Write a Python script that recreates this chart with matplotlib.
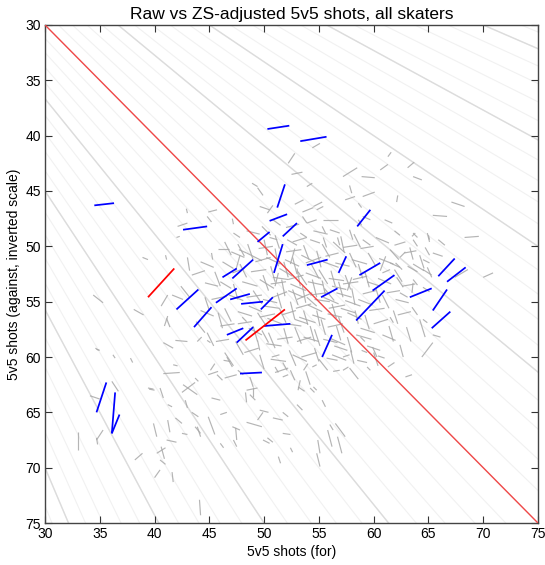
import numpy as np
import matplotlib
matplotlib.use("Agg")
import matplotlib.pyplot as plt
from matplotlib.collections import LineCollection

plt.rcParams['font.family'] = ['Liberation Sans', 'DejaVu Sans']

title = "Raw vs ZS-adjusted 5v5 shots, all skaters"
xlabel = "5v5 shots (for)"
ylabel = "5v5 shots (against, inverted scale)"
ticks = [30, 35, 40, 45, 50, 55, 60, 65, 70, 75]

# Shot-share reference lines (fraction of shots "for")
share_minor = [p / 100 for p in range(26, 75)]
share_major = [0.30, 0.35, 0.40, 0.45, 0.55, 0.60, 0.65, 0.70]

# Each row: (raw for, raw against, adjusted for, adjusted against)
blue_players = [
    (50.3, 39.4, 52.3, 39.1), (53.3, 40.5, 55.7, 40.1), (34.5, 46.3, 36.3, 46.1),
    (42.6, 48.5, 44.8, 48.2), (51.2, 46.5, 51.9, 44.4), (50.5, 47.7, 52.1, 47.1),
    (51.7, 49.1, 53.0, 47.9), (49.4, 49.6, 50.5, 48.7), (58.5, 48.2, 59.7, 46.7),
    (46.2, 52.8, 47.5, 52.0), (47.1, 52.9, 49.0, 51.2), (50.9, 52.4, 51.7, 49.8),
    (53.9, 51.7, 55.8, 51.2), (56.8, 52.4, 57.5, 50.9), (58.7, 52.6, 60.6, 51.5),
    (42.0, 55.7, 44.0, 53.9), (43.6, 57.3, 45.2, 55.5), (45.6, 55.1, 47.5, 53.8),
    (46.9, 54.8, 48.7, 54.3), (47.9, 55.2, 49.9, 55.0), (49.7, 55.7, 50.8, 54.6),
    (46.6, 58.0, 48.1, 57.4), (47.5, 58.7, 49.0, 57.3), (50.0, 57.2, 52.4, 57.0),
    (47.8, 61.5, 49.8, 61.4), (55.2, 54.6, 56.7, 53.8), (59.9, 54.0, 61.9, 52.6),
    (58.4, 56.7, 61.0, 54.0), (55.3, 60.0, 56.2, 58.0), (63.3, 54.6, 65.3, 53.8),
    (65.9, 52.7, 67.4, 51.1), (66.7, 53.2, 68.4, 51.9), (65.4, 55.8, 66.7, 53.9),
    (65.3, 57.4, 67.0, 55.9), (34.7, 65.0, 35.6, 62.3), (36.4, 63.2, 36.1, 66.9),
    (36.1, 66.9, 36.8, 65.2),
]

red_players = [
    (39.4, 54.6, 41.8, 52.0),
    (48.3, 58.5, 51.9, 55.7),
]

gray_upper = [
    (61.3, 41.9, 61.6, 41.5), (63.1, 42.9, 63.7, 42.4), (63.6, 43.7, 64.4, 44.0),
    (57.2, 43.7, 58.5, 42.9), (58.9, 43.7, 60.1, 43.8), (57.8, 44.5, 58.0, 45.2),
    (57.4, 45.8, 58.3, 45.5), (59.0, 45.5, 60.1, 45.1), (67.1, 46.0, 68.3, 46.4),
    (65.4, 47.2, 66.7, 47.3), (68.3, 49.2, 69.6, 49.1), (52.5, 43.5, 53.5, 43.3),
    (52.2, 42.5, 52.8, 41.6), (54.4, 41.1, 55.1, 40.7), (53.9, 44.6, 54.4, 44.3),
    (54.5, 46.4, 55.3, 46.0), (53.5, 47.3, 53.9, 47.9), (62.2, 45.4, 62.1, 46.0),
    (58.6, 46.1, 58.9, 46.5), (63.6, 48.8, 64.0, 49.2), (48.9, 44.3, 49.4, 44.6),
    (49.4, 44.7, 49.9, 45.4), (42.9, 46.6, 43.0, 47.0), (44.9, 46.9, 45.7, 46.7),
    (44.8, 47.3, 45.2, 47.8), (42.1, 48.2, 43.0, 47.9), (47.1, 47.5, 47.2, 48.0),
    (42.0, 49.2, 42.3, 49.1), (38.9, 51.0, 39.4, 51.2), (41.0, 50.8, 41.1, 51.2),
    (45.2, 50.6, 45.3, 51.2), (50.3, 47.0, 50.8, 46.3), (60.6, 43.1, 61.3, 42.6),
    (61.0, 47.6, 61.7, 47.9), (61.9, 49.9, 62.9, 49.6), (65.9, 49.4, 66.5, 49.9),
    (55.4, 47.6, 56.7, 47.6), (52.8, 46.2, 53.6, 45.8), (53.5, 46.9, 54.5, 46.5),
    (54.8, 46.7, 55.4, 46.4), (53.9, 47.9, 54.8, 47.6), (55.3, 48.2, 55.6, 48.8),
    (56.0, 48.5, 56.9, 48.8), (58.6, 47.6, 58.9, 48.1), (59.0, 47.3, 59.7, 47.6),
    (52.1, 49.4, 53.0, 49.9), (53.3, 48.8, 53.9, 49.2), (54.2, 49.4, 55.1, 49.7),
    (55.4, 49.2, 55.7, 50.1), (56.7, 49.2, 56.9, 49.9), (57.8, 48.5, 58.1, 49.4),
    (57.2, 50.1, 58.5, 49.9), (59.0, 49.4, 59.7, 49.9), (50.5, 49.2, 51.2, 49.4),
    (61.9, 48.6, 62.4, 49.0), (64.9, 48.8, 65.1, 49.6), (47.7, 50.3, 48.4, 50.6),
    (49.6, 46.4, 50.5, 46.7), (50.8, 47.6, 51.5, 48.1), (47.2, 48.8, 47.8, 49.2),
    (63.5, 49.1, 63.8, 48.8), (63.6, 49.4, 64.0, 50.0), (65.0, 49.0, 65.1, 49.4),
]

gray_left = [
    (34.4, 54.4, 35.3, 55.1), (38.1, 55.7, 39.0, 56.2), (41.1, 56.5, 41.4, 57.3),
    (41.9, 58.5, 43.0, 58.6), (40.8, 58.7, 41.7, 59.2), (34.7, 59.3, 35.0, 59.4),
    (36.2, 59.8, 36.4, 60.1), (37.8, 60.1, 38.0, 60.5), (40.8, 61.5, 42.3, 61.4),
    (41.7, 60.7, 42.1, 60.8), (39.4, 62.8, 39.9, 62.9), (40.5, 62.8, 40.8, 63.7),
    (41.2, 64.3, 41.6, 64.5), (42.5, 63.2, 43.7, 62.3), (42.6, 62.5, 43.9, 63.4),
    (42.8, 63.9, 43.0, 64.6), (43.4, 65.0, 44.0, 65.4), (39.9, 66.0, 40.2, 67.2),
    (41.2, 65.7, 41.4, 66.8), (41.1, 67.5, 42.0, 67.7), (42.5, 66.9, 43.0, 67.0),
    (43.7, 66.3, 44.2, 66.9), (40.2, 68.7, 41.0, 68.2), (40.5, 69.3, 41.0, 69.7),
    (40.0, 70.9, 40.5, 70.2), (41.6, 70.4, 41.7, 71.3), (38.2, 69.3, 38.9, 68.7),
    (33.0, 66.8, 33.0, 68.4), (34.7, 67.3, 34.8, 67.9), (34.7, 67.5, 35.3, 66.6),
    (44.1, 72.9, 44.2, 74.3), (44.9, 65.4, 45.5, 67.0), (46.0, 65.2, 46.6, 65.0),
    (45.2, 63.7, 46.0, 63.9), (47.1, 66.3, 47.8, 66.6), (47.2, 67.5, 47.5, 68.1),
    (48.4, 65.9, 49.8, 66.3), (49.4, 65.7, 49.9, 65.0), (50.3, 67.3, 50.8, 67.7),
    (51.3, 69.0, 51.5, 69.6), (48.7, 63.4, 49.2, 63.9), (49.0, 62.7, 49.0, 63.6),
    (51.7, 66.9, 52.4, 67.0), (51.7, 65.0, 52.2, 65.4), (45.7, 61.6, 46.2, 62.1),
    (46.6, 60.0, 47.1, 60.9), (45.1, 61.2, 45.5, 60.6), (46.4, 61.9, 47.5, 61.6),
    (47.6, 61.2, 48.1, 61.6), (48.7, 61.8, 49.0, 62.7), (48.4, 63.0, 49.4, 62.8),
    (41.9, 65.5, 42.5, 66.0), (43.9, 66.3, 44.2, 67.2), (34.6, 59.2, 34.9, 59.4),
    (34.1, 63.5, 35.0, 63.8), (36.1, 62.2, 36.7, 63.1), (39.5, 62.9, 40.0, 63.0),
    (41.2, 56.3, 40.9, 57.2), (43.9, 58.6, 44.3, 58.2), (44.8, 58.5, 45.1, 58.7),
    (44.9, 61.6, 45.8, 61.3), (43.7, 61.9, 44.0, 62.2), (47.4, 66.4, 47.5, 67.5),
    (46.0, 67.8, 46.3, 68.2), (49.6, 64.8, 50.4, 65.0), (49.9, 67.5, 50.5, 67.8),
    (48.0, 56.4, 48.4, 56.8), (46.3, 60.3, 46.9, 60.4), (48.3, 63.2, 48.4, 64.1),
    (49.4, 58.5, 49.6, 59.4), (40.6, 68.1, 40.9, 69.2),
]

gray_right = [
    (53.3, 62.1, 53.1, 63.0), (53.0, 64.3, 53.5, 64.8), (54.2, 62.8, 54.6, 63.2),
    (55.3, 63.9, 55.6, 64.5), (50.8, 65.5, 51.7, 65.7), (54.9, 67.5, 55.1, 68.7),
    (55.8, 66.6, 56.2, 68.1), (56.5, 66.0, 57.4, 67.2), (56.7, 67.2, 57.1, 68.7),
    (54.8, 68.7, 55.1, 69.9), (52.4, 61.2, 52.8, 62.1), (53.6, 61.2, 54.0, 60.6),
    (54.4, 60.9, 54.8, 60.7), (56.3, 61.3, 56.9, 61.2), (57.2, 60.0, 57.8, 59.8),
    (58.5, 60.3, 59.4, 60.5), (59.4, 60.9, 59.7, 61.2), (59.9, 59.1, 60.3, 60.0),
    (62.9, 61.8, 63.5, 61.6), (64.4, 60.0, 65.4, 58.7), (65.4, 58.0, 66.1, 58.2),
    (70.0, 52.8, 70.9, 52.4), (50.7, 60.0, 51.4, 59.8), (51.0, 60.9, 51.3, 61.4),
    (51.7, 60.5, 52.1, 61.2), (51.7, 61.8, 52.2, 61.6), (57.2, 61.2, 57.7, 60.9),
    (55.7, 60.1, 56.7, 60.3), (61.3, 60.9, 61.9, 60.5), (62.4, 58.9, 62.7, 60.0),
    (63.5, 55.5, 64.0, 56.2), (61.5, 56.4, 61.8, 56.9), (62.4, 54.2, 63.1, 54.6),
    (63.6, 53.0, 64.0, 53.5), (64.5, 52.1, 65.3, 52.6), (63.1, 51.8, 64.0, 52.3),
    (61.5, 51.5, 62.4, 51.9), (58.8, 58.2, 59.2, 58.6), (58.9, 59.4, 59.4, 59.6),
    (64.2, 56.6, 64.7, 58.2), (64.5, 56.6, 64.9, 56.9), (63.3, 50.1, 63.6, 51.2),
    (62.4, 51.0, 62.9, 50.5), (64.7, 50.1, 65.1, 50.8), (65.4, 50.6, 66.3, 50.9),
    (64.5, 51.2, 65.1, 51.5), (64.9, 51.9, 65.3, 52.8), (62.0, 51.5, 62.6, 52.1),
    (60.8, 52.4, 61.5, 52.1), (62.1, 52.8, 62.7, 53.7), (63.6, 53.3, 63.5, 54.2),
    (64.5, 53.7, 65.1, 54.1), (67.0, 51.5, 67.3, 51.2), (67.4, 52.8, 68.6, 52.1),
    (54.5, 62.7, 54.8, 63.0), (56.0, 66.1, 56.3, 66.6), (52.4, 68.2, 52.6, 68.6),
    (53.1, 62.7, 53.7, 63.1), (60.4, 59.9, 61.0, 60.1),
]

gray_core = [
    (47.0, 50.5, 48.2, 51.0), (48.5, 49.8, 49.0, 51.2), (49.5, 50.2, 50.8, 50.0),
    (50.2, 51.0, 51.5, 51.6), (51.0, 50.2, 51.3, 51.8), (52.0, 50.5, 53.4, 50.3),
    (52.6, 51.0, 53.0, 52.5), (53.4, 50.8, 54.6, 51.4), (54.8, 50.4, 55.2, 51.9),
    (55.6, 50.9, 56.8, 50.6), (56.3, 49.6, 57.4, 50.6), (57.8, 50.6, 58.4, 51.9),
    (58.8, 50.2, 60.0, 50.0), (59.5, 50.6, 60.2, 51.8), (60.5, 51.1, 61.8, 51.6),
    (61.5, 50.3, 62.3, 51.2), (46.2, 51.4, 47.2, 52.0), (47.8, 51.6, 48.4, 52.8),
    (48.8, 52.3, 50.2, 52.1), (49.9, 52.6, 50.4, 54.0), (51.4, 52.0, 52.6, 52.7),
    (52.2, 53.0, 53.6, 52.6), (53.0, 52.0, 53.3, 53.6), (53.8, 52.4, 55.2, 52.9),
    (55.0, 52.1, 55.8, 53.4), (55.9, 52.9, 57.3, 53.1), (57.4, 52.6, 57.9, 53.9),
    (58.1, 53.0, 59.4, 52.7), (59.2, 52.3, 59.6, 53.7), (60.4, 52.9, 61.6, 53.4),
    (61.9, 52.1, 62.6, 53.2), (62.6, 53.6, 63.8, 53.4), (46.0, 53.2, 47.0, 53.8),
    (47.2, 53.4, 47.6, 54.8), (48.0, 53.2, 49.4, 53.6), (49.0, 54.0, 49.8, 55.2),
    (50.6, 53.4, 52.0, 53.2), (51.2, 54.2, 51.6, 55.6), (52.2, 54.0, 53.6, 54.6),
    (53.5, 53.6, 53.8, 55.1), (54.2, 54.4, 55.7, 54.2), (55.5, 53.8, 56.4, 54.9),
    (56.6, 54.2, 58.0, 54.6), (58.0, 53.8, 58.3, 55.3), (59.0, 54.3, 60.2, 54.0),
    (60.8, 54.4, 61.4, 55.6), (62.0, 54.8, 63.2, 55.1), (45.2, 54.8, 46.6, 54.5),
    (46.4, 55.6, 47.0, 56.8), (47.6, 55.9, 48.9, 56.3), (49.4, 56.0, 50.2, 57.2),
    (50.0, 55.4, 51.4, 55.6), (51.6, 56.2, 52.9, 55.8), (52.4, 55.0, 52.8, 56.6),
    (53.2, 56.4, 54.7, 56.9), (54.0, 55.3, 55.3, 55.9), (55.2, 56.6, 55.6, 58.0),
    (55.9, 55.6, 57.4, 55.3), (56.8, 56.4, 57.3, 57.8), (57.6, 56.0, 58.9, 56.6),
    (59.2, 56.2, 59.6, 57.5), (60.0, 57.0, 61.3, 56.6), (46.0, 57.2, 47.3, 57.0),
    (47.4, 58.6, 48.1, 59.8), (48.6, 57.4, 49.8, 58.0), (50.4, 57.8, 51.0, 59.2),
    (51.2, 58.4, 52.6, 58.2), (52.8, 57.3, 53.4, 58.8), (53.6, 58.2, 55.0, 58.6),
    (54.6, 57.5, 55.1, 59.0), (56.0, 58.3, 57.4, 58.9), (57.6, 58.2, 58.0, 59.6),
    (58.4, 58.0, 59.8, 58.4), (48.2, 59.6, 49.5, 59.2), (49.6, 59.8, 50.0, 61.1),
    (50.6, 60.2, 52.0, 60.4), (52.3, 59.4, 52.9, 60.8), (53.4, 60.0, 54.8, 59.6),
    (55.0, 60.2, 55.8, 61.2), (56.2, 59.8, 57.5, 60.3), (51.0, 61.4, 52.2, 61.0),
    (53.8, 61.3, 54.2, 62.5), (57.8, 61.0, 58.6, 62.0), (52.4, 53.4, 53.8, 54.0),
    (53.0, 54.8, 54.4, 54.2), (54.4, 53.0, 54.8, 54.6), (55.4, 54.6, 56.8, 55.2),
    (51.6, 53.0, 51.9, 54.5), (50.8, 54.6, 52.1, 54.1), (52.9, 55.6, 54.3, 55.2),
    (54.8, 55.8, 55.1, 57.2), (56.2, 53.6, 57.5, 53.9), (49.6, 53.0, 50.9, 53.8),
    (48.4, 54.6, 49.8, 54.4), (53.8, 51.5, 55.2, 51.0), (51.8, 51.4, 52.2, 52.8),
    (56.5, 51.5, 57.8, 51.8), (57.4, 54.9, 58.8, 55.4), (50.3, 56.5, 51.6, 57.0),
    (52.0, 57.0, 53.4, 57.2), (54.2, 57.2, 54.6, 58.6), (55.8, 57.3, 57.2, 57.0),
    (58.6, 54.8, 59.9, 55.3), (47.1, 52.4, 48.2, 52.0), (45.5, 52.3, 46.0, 53.6),
    (44.6, 53.3, 45.8, 53.6), (44.2, 55.8, 45.4, 56.3), (44.8, 57.8, 45.4, 59.0),
    (45.6, 58.6, 46.8, 58.4), (46.4, 59.6, 47.2, 60.8), (43.8, 56.8, 44.6, 57.8),
    (60.8, 58.0, 62.0, 58.5), (61.4, 57.2, 61.8, 58.6), (62.2, 56.2, 63.4, 55.9),
    (63.0, 57.3, 63.4, 58.6), (59.4, 59.0, 60.6, 59.4), (60.0, 59.6, 60.4, 60.8),
    (63.6, 51.6, 64.6, 52.2), (64.2, 50.8, 64.6, 52.0), (62.8, 50.6, 63.9, 50.4),
    (60.2, 49.2, 61.4, 49.7), (58.2, 48.9, 58.8, 50.1), (48.4, 48.6, 49.6, 48.9),
    (47.6, 49.8, 48.2, 50.9), (46.4, 49.6, 47.0, 50.8), (45.8, 50.2, 46.8, 50.2),
    (44.2, 51.4, 45.4, 51.9), (43.4, 52.6, 44.6, 52.2), (42.4, 53.6, 43.2, 54.6),
    (43.0, 51.0, 43.2, 52.2), (41.6, 54.4, 42.6, 54.8), (40.6, 55.4, 41.2, 54.4),
    (54.5, 48.6, 55.8, 48.9), (52.0, 48.3, 53.2, 48.0), (51.0, 49.0, 51.4, 50.2),
    (49.8, 48.2, 50.6, 49.0),
]

gray_core_dense = [
    (50.6, 51.8, 51.0, 53.2), (51.9, 51.2, 53.2, 51.8), (53.1, 52.3, 53.9, 53.5),
    (54.3, 51.6, 55.0, 52.9), (55.4, 51.4, 56.8, 51.9), (56.1, 52.2, 56.5, 53.6),
    (57.2, 53.4, 58.6, 53.2), (58.6, 51.6, 59.0, 52.9), (49.2, 51.4, 50.6, 51.0),
    (48.4, 50.6, 49.8, 51.3), (50.0, 49.4, 50.3, 50.8), (52.6, 49.6, 53.9, 49.2),
    (53.6, 49.9, 54.1, 51.2), (55.3, 49.8, 56.0, 51.0), (57.0, 49.1, 57.3, 50.5),
    (49.9, 54.8, 51.2, 55.1), (51.0, 53.6, 51.3, 52.4), (52.6, 53.9, 53.1, 55.3),
    (54.0, 53.2, 55.4, 53.5), (55.3, 53.1, 55.6, 54.4), (56.8, 53.2, 57.2, 54.6),
    (57.6, 54.0, 58.0, 52.8), (59.4, 53.2, 60.6, 53.6), (60.2, 53.8, 60.6, 55.1),
    (48.6, 55.4, 49.8, 55.9), (49.6, 56.4, 51.0, 56.1), (51.4, 55.6, 52.0, 56.9),
    (53.6, 55.8, 54.0, 57.1), (54.6, 54.8, 56.0, 55.0), (56.2, 55.2, 56.6, 56.5),
    (57.0, 55.6, 58.3, 56.0), (58.3, 55.8, 58.6, 57.0), (46.8, 54.4, 48.1, 54.9),
    (47.6, 57.0, 48.9, 56.8), (49.0, 57.2, 49.4, 58.6), (51.8, 57.4, 52.2, 58.8),
    (53.0, 58.6, 54.3, 58.2), (55.4, 58.4, 56.7, 58.7), (56.6, 57.2, 57.0, 58.5),
    (58.8, 57.4, 60.1, 57.8), (50.2, 58.8, 51.6, 59.0), (52.6, 59.8, 53.9, 60.4),
    (54.6, 59.2, 55.0, 60.4), (56.4, 59.0, 57.6, 59.4), (57.9, 59.4, 58.2, 60.6),
    (45.8, 56.0, 46.2, 57.4), (44.6, 54.6, 45.0, 55.8), (47.8, 50.8, 47.4, 52.2),
    (58.0, 51.2, 59.4, 51.6), (60.6, 52.2, 61.1, 50.9), (61.2, 54.2, 62.4, 54.0),
    (59.6, 55.8, 61.0, 55.6), (61.8, 55.8, 62.2, 57.0), (52.4, 51.6, 52.8, 50.2),
    (53.9, 54.6, 54.8, 55.4), (55.8, 56.1, 57.1, 56.4), (50.8, 52.8, 52.2, 53.0),
    (54.4, 56.2, 55.6, 56.6), (49.8, 57.6, 50.4, 58.7), (52.8, 56.6, 54.0, 57.0),
]

fig = plt.figure(figsize=(5.45, 5.65), dpi=100)
ax = fig.add_axes([0.0826, 0.0743, 0.9045, 0.8815])

lo, hi = 30, 75
xs = np.array([0.0, 200.0])
for p in share_minor:
    k = (1 - p) / p
    ax.plot(xs, k * xs, color='#f1f1f1', lw=0.8, zorder=1)
for p in share_major:
    k = (1 - p) / p
    ax.plot(xs, k * xs, color='#dcdcdc', lw=1.0, zorder=1.5)


def segs(rows):
    return [[(r[0], r[1]), (r[2], r[3])] for r in rows]


gray_all = gray_upper + gray_left + gray_right + gray_core + gray_core_dense
ax.add_collection(LineCollection(segs(gray_all), colors='#a8a8a8', linewidths=0.85,
                                 alpha=0.85, zorder=2))
ax.plot([lo, hi], [lo, hi], color='#f04848', lw=1.0, zorder=3)
ax.add_collection(LineCollection(segs(blue_players), colors='#0000ff', linewidths=1.25, zorder=4))
ax.add_collection(LineCollection(segs(red_players), colors='#ff0000', linewidths=1.25, zorder=4))

ax.set_xlim(lo, hi)
ax.set_ylim(hi, lo)
ax.set_xticks(ticks)
ax.set_yticks(ticks)
ax.tick_params(direction='in', length=5, width=0.8, top=True, right=True,
               labelsize=10, color='#333333', pad=3)
for s in ax.spines.values():
    s.set_color('#444444')
    s.set_linewidth(1.0)
ax.set_title(title, fontsize=12.5, pad=4)
ax.set_xlabel(xlabel, fontsize=10, labelpad=3)
ax.set_ylabel(ylabel, fontsize=10, labelpad=3)

fig.savefig("out.png", dpi=100)
